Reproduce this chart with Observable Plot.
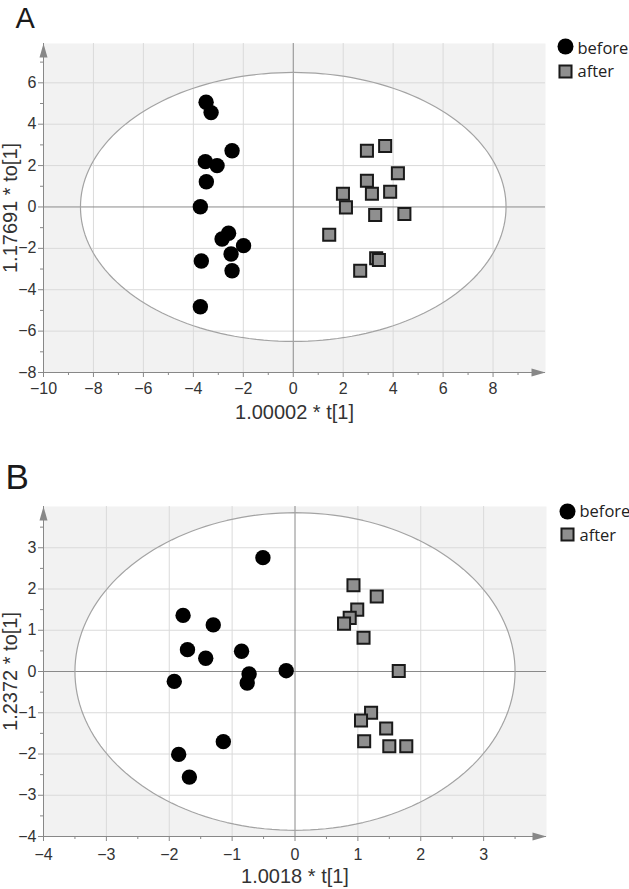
<!DOCTYPE html>
<html><head><meta charset="utf-8">
<script src="https://cdn.jsdelivr.net/npm/d3@7"></script>
<script src="https://cdn.jsdelivr.net/npm/@observablehq/plot@0.6"></script>
<style>
body{margin:0;background:#fff;}
#root{position:relative;width:629px;height:889px;overflow:hidden;}
.panel{position:absolute;left:0;}
</style></head><body><div id="root"></div>
<script>
// ---------- Panel A data ----------
const aBeforeX = [-3.49,-3.29,-2.45,-3.52,-3.05,-3.48,-3.72,-2.59,-2.85,-1.99,-2.49,-3.68,-2.45,-3.72];
const aBeforeY = [5.06,4.56,2.72,2.19,2.00,1.22,0.01,-1.27,-1.55,-1.87,-2.27,-2.61,-3.08,-4.82];
const aAfterX  = [3.68,2.95,4.19,2.95,3.88,1.99,3.15,2.11,3.28,4.45,1.44,3.32,3.43,2.68];
const aAfterY  = [2.95,2.72,1.63,1.27,0.74,0.64,0.64,-0.02,-0.39,-0.34,-1.34,-2.48,-2.56,-3.08];
const aXTicks = [-10,-8,-6,-4,-2,0,2,4,6,8];
const aXMinor = [-9,-7,-5,-3,-1,1,3,5,7,9];
const aYTicks = [-8,-6,-4,-2,0,2,4,6];
const aYMinor = [-7,-5,-3,-1,1,3,5,7];
const aXDomain = [-10, 10.1];
const aYDomain = [-8, 7.9];
const aEllipse = [8.52, 6.5];
const aXLabel = "1.00002 * t[1]";
const aYLabel = "1.17691 * to[1]";

// ---------- Panel B data ----------
const bBeforeX = [-0.51,-1.78,-1.30,-1.71,-1.42,-0.85,-0.73,-0.76,-0.14,-1.92,-1.14,-1.85,-1.68];
const bBeforeY = [2.76,1.36,1.13,0.53,0.32,0.49,-0.06,-0.28,0.02,-0.24,-1.70,-2.01,-2.56];
const bAfterX  = [0.93,1.30,0.99,0.87,0.78,1.09,1.65,1.21,1.05,1.45,1.10,1.50,1.77];
const bAfterY  = [2.09,1.82,1.50,1.30,1.16,0.82,0.01,-1.00,-1.19,-1.38,-1.69,-1.81,-1.81];
const bXTicks = [-4,-3,-2,-1,0,1,2,3];
const bXMinor = [-3.5,-2.5,-1.5,-0.5,0.5,1.5,2.5,3.5];
const bYTicks = [-4,-3,-2,-1,0,1,2,3];
const bYMinor = [-3.5,-2.5,-1.5,-0.5,0.5,1.5,2.5,3.5];
const bXDomain = [-4, 4];
const bYDomain = [-4, 4];
const bEllipse = [3.5, 3.85];
const bXLabel = "1.0018 * t[1]";
const bYLabel = "1.2372 * to[1]";

const legendLabels = ["before", "after"];

const triShape = {draw(ctx, l, r) { ctx.moveTo(0, -l); ctx.lineTo(r, 0); ctx.lineTo(-r, 0); ctx.closePath(); }};

function panel(o) {
  const ell = d3.range(0, 361, 2).map(a => ({x: o.ell[0]*Math.cos(a*Math.PI/180), y: o.ell[1]*Math.sin(a*Math.PI/180)}));
  const before = o.bx.map((x, i) => ({x, y: o.by[i]}));
  const after = o.ax.map((x, i) => ({x, y: o.ay[i]}));
  const [x0, x1] = o.xd, [y0, y1] = o.yd;
  const lg = o.leg;
  return Plot.plot({
    width: 629, height: o.h,
    marginTop: o.mt, marginBottom: o.mb, marginLeft: 43, marginRight: o.mr,
    x: {domain: o.xd}, y: {domain: o.yd},
    style: {fontFamily: "'Liberation Sans', Arial, sans-serif", fontSize: "16px", color: "#333", background: "transparent", overflow: "visible"},
    marks: [
      Plot.frame({fill: "#f2f2f2", stroke: "none"}),
      Plot.line(ell, {x: "x", y: "y", fill: "#fff", stroke: "none"}),
      Plot.ruleX(o.xt.filter(v => v !== 0 && v !== x0), {stroke: "#dadada"}),
      Plot.ruleY(o.yt.filter(v => v !== 0 && v !== y0), {stroke: "#dadada"}),
      Plot.ruleX([0], {stroke: "#8a8a8a"}),
      Plot.ruleY([0], {stroke: "#8a8a8a"}),
      Plot.line(ell, {x: "x", y: "y", stroke: "#a3a3a3", strokeWidth: 1.2}),
      Plot.ruleX([x0], {stroke: "#888"}),
      Plot.ruleY([y0], {stroke: "#888"}),
      Plot.vector([{x: x0, y: y1}], {x: "x", y: "y", length: 14, r: 4, rotate: 0, anchor: "end", shape: triShape, fill: "#888", stroke: "none"}),
      Plot.vector([{x: x1, y: y0}], {x: "x", y: "y", length: 14, r: 4, rotate: 90, anchor: "end", shape: triShape, fill: "#888", stroke: "none"}),
      Plot.axisX({ticks: o.xm, tickSize: 3, stroke: "#888", tickFormat: () => "", label: null}),
      Plot.axisX({ticks: o.xt, tickSize: 5, tickPadding: o.xpad, stroke: "#888", fill: "#333", label: null, fontSize: 16}),
      Plot.axisY({ticks: o.ym, tickSize: 3, stroke: "#888", tickFormat: () => "", label: null}),
      Plot.axisY({ticks: o.yt, tickSize: 5, tickPadding: 2, stroke: "#888", fill: "#333", label: null, fontSize: 16}),
      Plot.text([o.xl], {frameAnchor: "bottom", text: d => d, dy: 46, lineAnchor: "bottom", textAnchor: "middle", fontSize: 20, fill: "#333"}),
      Plot.text([o.yl], {frameAnchor: "left", text: d => d, dx: -33, rotate: -90, lineAnchor: "middle", textAnchor: "middle", fontSize: 20, fill: "#333"}),
      Plot.text([o.letter], {frameAnchor: "top-left", text: d => d, dx: o.ldx, dy: o.ldy, lineAnchor: "bottom", textAnchor: "start", fontSize: o.lfs, fill: "#1a1a1a"}),
      Plot.dot(before, {x: "x", y: "y", r: 7.7, fill: "#000", stroke: "none"}),
      Plot.dot(after, {x: "x", y: "y", symbol: "square", r: 6.8, fill: "#8f8f8f", stroke: "#1a1a1a", strokeWidth: 2}),
      // legend
      Plot.dot([legendLabels[0]], {frameAnchor: "top-right", dx: lg.dx, dy: lg.d1, r: 8, fill: "#000", stroke: "none"}),
      Plot.dot([legendLabels[1]], {frameAnchor: "top-right", dx: lg.dx, dy: lg.d2, symbol: "square", r: 6.8, fill: "#8f8f8f", stroke: "#1a1a1a", strokeWidth: 2}),
      Plot.text([legendLabels[0]], {frameAnchor: "top-right", text: d => d, dx: lg.tx, dy: lg.t1, textAnchor: "start", lineAnchor: "bottom", fontFamily: "'Open Sans', 'Noto Sans', sans-serif", fontSize: 16.5, fill: "#222"}),
      Plot.text([legendLabels[1]], {frameAnchor: "top-right", text: d => d, dx: lg.tx, dy: lg.t2, textAnchor: "start", lineAnchor: "bottom", fontFamily: "'Open Sans', 'Noto Sans', sans-serif", fontSize: 16.5, fill: "#222"})
    ]
  });
}

const root = document.getElementById("root");
const pA = panel({
  h: 440, mt: 43, mb: 68, mr: 84, xd: aXDomain, yd: aYDomain, ell: aEllipse,
  bx: aBeforeX, by: aBeforeY, ax: aAfterX, ay: aAfterY,
  xt: aXTicks, xm: aXMinor, yt: aYTicks, ym: aYMinor, xpad: 5,
  xl: aXLabel, yl: aYLabel, letter: "A", ldx: -28, ldy: -16, lfs: 29,
  leg: {dx: 20, d1: 3, d2: 28, tx: 32, t1: 10, t2: 33}
});
const pB = panel({
  h: 449, mt: 66, mb: 53, mr: 83, xd: bXDomain, yd: bYDomain, ell: bEllipse,
  bx: bBeforeX, by: bBeforeY, ax: bAfterX, ay: bAfterY,
  xt: bXTicks, xm: bXMinor, yt: bYTicks, ym: bYMinor, xpad: 7,
  xl: bXLabel, yl: bYLabel, letter: "B", ldx: -38, ldy: -18, lfs: 35,
  leg: {dx: 21, d1: 5, d2: 28, tx: 33, t1: 10, t2: 34}
});
pA.classList.add("panel"); pA.style.top = "0px";
pB.classList.add("panel"); pB.style.top = "440px";
root.appendChild(pA);
root.appendChild(pB);
</script></body></html>
